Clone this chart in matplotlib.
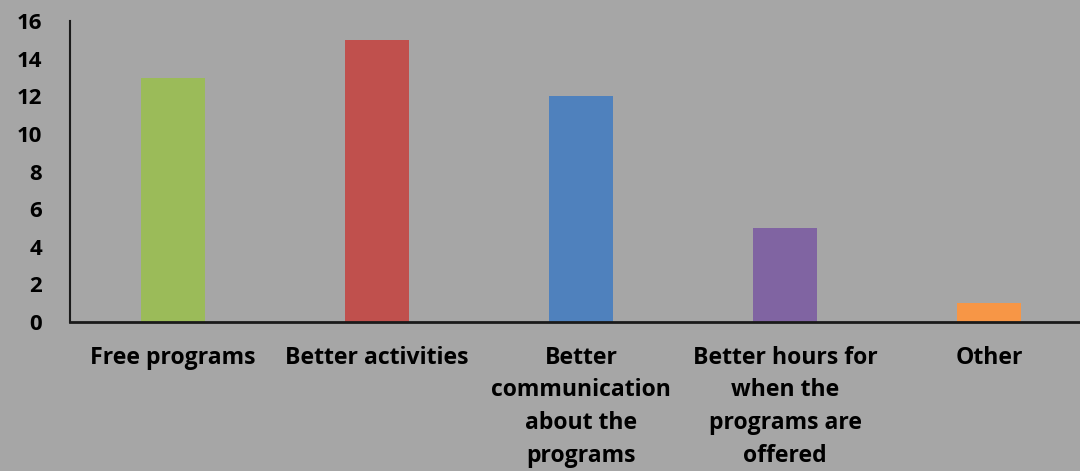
import matplotlib.pyplot as plt
import numpy as np

categories = ['Free programs', 'Better activities',
              'Better\ncommunication\nabout the\nprograms',
              'Better hours for\nwhen the\nprograms are\noffered',
              'Other']
counts = [13, 15, 12, 5, 1]
colors = ['#9bbb59', '#c0504d', '#4f81bd', '#8064a2', '#f79646']
yticks = [0, 2, 4, 6, 8, 10, 12, 14, 16]

bg = '#a6a6a6'
plt.rcParams['font.family'] = ['Open Sans', 'DejaVu Sans']

fig = plt.figure(figsize=(10.8, 4.71), dpi=100, facecolor=bg)
ax = fig.add_axes([0.0648, 0.3163, 0.9352, 0.6387])
ax.set_facecolor(bg)

x = np.arange(len(categories))
ax.bar(x, counts, width=0.314, color=colors)

ax.set_xlim(-0.505, 4.446)
ax.set_ylim(0, 16)
ax.set_yticks(yticks)
ax.set_xticks(x)
ax.set_xticklabels(categories, fontsize=16.6, fontweight='bold',
                   linespacing=1.48, va='top')
for lab in ax.get_yticklabels():
    lab.set_fontsize(16)
    lab.set_fontweight('bold')
ax.tick_params(axis='both', length=0)
ax.tick_params(axis='x', pad=17)
ax.tick_params(axis='y', pad=20)

for s in ['top', 'right']:
    ax.spines[s].set_visible(False)
ax.spines['left'].set_linewidth(1.5)
ax.spines['bottom'].set_linewidth(2)
ax.spines['left'].set_color('#1a1a1a')
ax.spines['bottom'].set_color('#1a1a1a')

fig.savefig('out.png', dpi=100, facecolor=bg)
